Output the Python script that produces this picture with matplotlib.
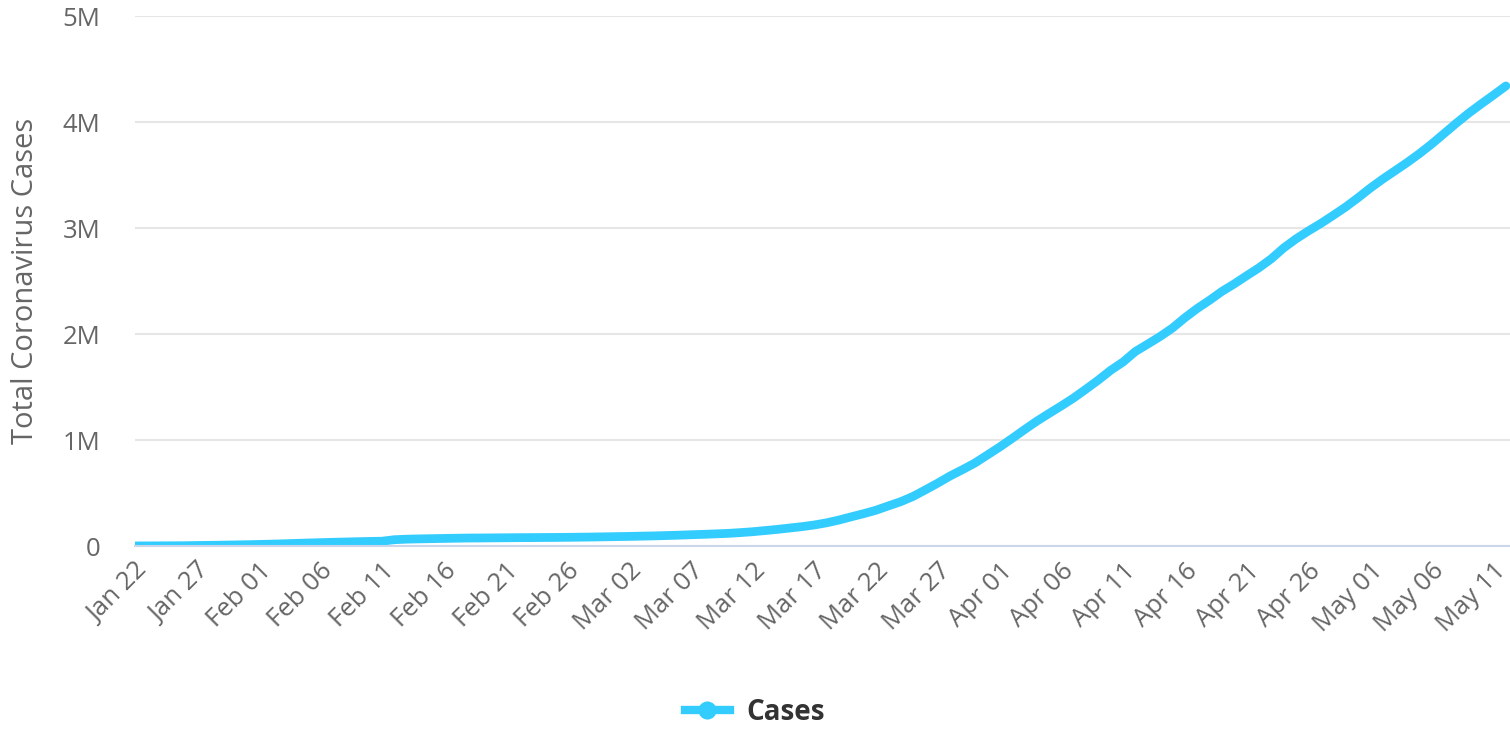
import datetime as dt
import matplotlib
matplotlib.use("Agg")
import matplotlib.pyplot as plt
import matplotlib.dates as mdates
from matplotlib.lines import Line2D
from matplotlib.ticker import FuncFormatter

plt.rcParams["font.family"] = ["Open Sans", "DejaVu Sans"]

# total cases, Jan 22 .. May 12
start = dt.datetime(2020, 1, 22)
cases = [
    580, 845, 1317, 2015, 2800, 4581, 6058, 7813, 9823, 11950,
    14553, 17391, 20630, 24545, 28266, 31439, 34876, 37552, 40553, 43099,
    45170, 59283, 64437, 67100, 69197, 71329, 73332, 75184, 75700, 76677,
    77673, 78651, 79205, 80087, 80828, 81820, 83112, 84615, 86604, 88585,
    90443, 93016, 95314, 98425, 102050, 106099, 109991, 114381, 118948, 126214,
    134576, 145483, 156653, 169593, 182490, 198238, 218822, 244933, 275597, 305036,
    337489, 378287, 418041, 467653, 529591, 593291, 660706, 720117, 782365, 857487,
    932605, 1013157, 1095917, 1176060, 1249754, 1321481, 1396476, 1479804, 1565278, 1657526,
    1735650, 1834721, 1904838, 1976191, 2056054, 2152437, 2240190, 2317758, 2401378, 2472259,
    2549123, 2624085, 2708885, 2811193, 2896746, 2971475, 3041764, 3117705, 3195925, 3282667,
    3374465, 3459133, 3538049, 3617166, 3701791, 3792866, 3891440, 3990075, 4084019, 4170424,
    4254154, 4340000,
]
dates = [start + dt.timedelta(days=i) for i in range(len(cases))]
tick_dates = dates[::5]
y_ticks = [0, 1e6, 2e6, 3e6, 4e6, 5e6]

line_color = "#33ccff"
label_color = "#666666"

fig = plt.figure(figsize=(15.1, 7.3), dpi=100)
ax = fig.add_axes([135 / 1510, 1 - 546 / 730, 1 - 135 / 1510, (546 - 16) / 730])

ax.plot(dates, cases, color=line_color, lw=6.3, solid_capstyle="round")

ax.set_xlim(dates[0], dates[-1] + dt.timedelta(hours=8))
ax.set_ylim(0, 5e6)
ax.set_yticks(y_ticks)
ax.yaxis.set_major_formatter(FuncFormatter(lambda v, p: "0" if v == 0 else f"{v / 1e6:.0f}M"))
ax.set_xticks(tick_dates)
ax.xaxis.set_major_formatter(mdates.DateFormatter("%b %d"))

ax.grid(axis="y", color="#e6e6e6", lw=1.5)
ax.set_axisbelow(True)
for s in ["top", "right", "left"]:
    ax.spines[s].set_visible(False)
ax.spines["bottom"].set_color("#ccd6eb")
ax.spines["bottom"].set_linewidth(1.5)

ax.tick_params(axis="both", length=0, colors=label_color, labelsize=18.5)
ax.tick_params(axis="y", pad=25)
ax.tick_params(axis="x", pad=9)
for lbl in ax.get_xticklabels():
    lbl.set_rotation(45)
    lbl.set_ha("right")
    lbl.set_rotation_mode("anchor")

ax.set_ylabel("Total Coronavirus Cases", color=label_color, fontsize=21, labelpad=16)

handle = Line2D([], [], color=line_color, lw=6, marker="o", markersize=12)
fig.legend([handle], ["Cases"], loc="center", bbox_to_anchor=(0.5, 1 - 712 / 730),
           frameon=False, prop={"weight": "bold", "size": 20}, labelcolor="#333333",
           handlelength=1.6, handletextpad=0.6)

fig.savefig("out.png", dpi=100)
